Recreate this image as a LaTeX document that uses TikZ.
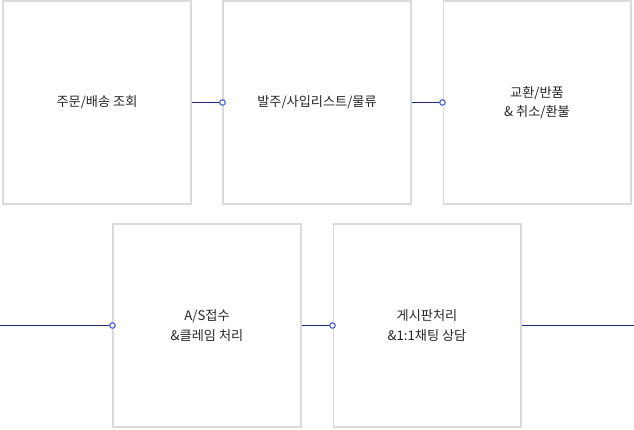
\documentclass[tikz,border=0pt]{standalone}
\usepackage{fontspec}
\newfontfamily\cjk{Noto Sans CJK KR}
\usetikzlibrary{positioning}
\definecolor{navy}{HTML}{1B2A78}
\definecolor{dotblue}{HTML}{3F5BD6}
\definecolor{boxgray}{HTML}{DADADA}
\tikzset{
  card/.style={draw=boxgray,line width=0.6pt,minimum width=3.76cm,minimum height=4.06cm,align=center,font=\cjk\fontsize{7.5}{11}\selectfont,text=black!85},
  link/.style={navy,line width=0.8pt},
  dot/.style={circle,draw=dotblue,fill=white,line width=0.6pt,inner sep=0pt,minimum size=0.11cm}
}
\begin{document}
\begin{tikzpicture}[x=0.02cm,y=-0.02cm]
\useasboundingbox (0,0) rectangle (634,429);
  \node[card] at (97,102.5) (order) {주문/배송 조회};
  \node[card] at (317,102.5) (buy) {발주/사입리스트/물류};
  \node[card] at (537,102.5) (swap) {교환/반품\\\& 취소/환불};
  \node[card] at (207,325.5) (claim) {A/S접수\\\&클레임 처리};
  \node[card] at (427,325.5) (board) {게시판처리\\\&1:1채팅 상담};
  \coordinate (lin) at (0,325.5);
  \coordinate (rout) at (634,325.5);
  \draw[link] (order.east) -- (buy.west) node[dot]{};
  \draw[link] (buy.east) -- (swap.west) node[dot]{};
  \draw[link] (lin) -- (claim.west) node[dot]{};
  \draw[link] (claim.east) -- (board.west) node[dot]{};
  \draw[link] (board.east) -- (rout);
\end{tikzpicture}
\end{document}
